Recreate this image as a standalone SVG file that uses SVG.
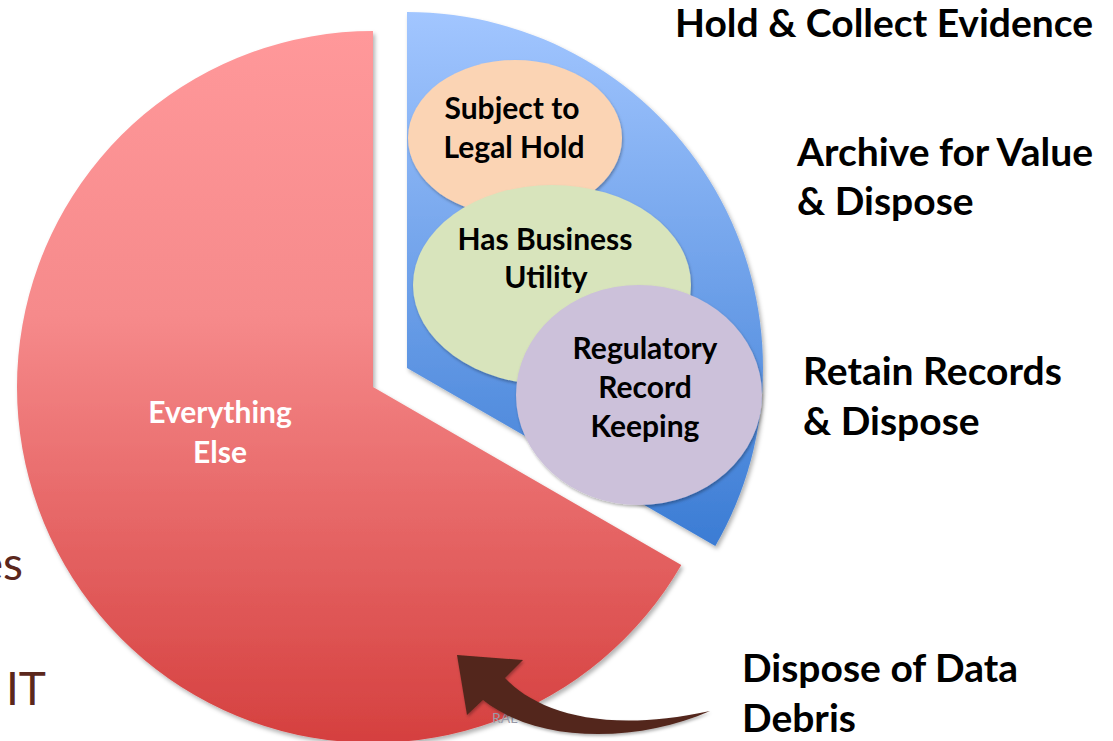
<svg xmlns="http://www.w3.org/2000/svg" width="1113" height="741" viewBox="0 0 1113 741">
  <defs>
    <linearGradient id="redGrad" gradientUnits="userSpaceOnUse" x1="0" y1="31" x2="0" y2="741">
      <stop offset="0" stop-color="#FF989A"/>
      <stop offset="0.4" stop-color="#F68A8B"/>
      <stop offset="1" stop-color="#D5403F"/>
    </linearGradient>
    <linearGradient id="blueGrad" gradientUnits="userSpaceOnUse" x1="0" y1="12" x2="0" y2="546">
      <stop offset="0" stop-color="#A2C6FF"/>
      <stop offset="1" stop-color="#3B7CD4"/>
    </linearGradient>
    <filter id="shadow" x="-10%" y="-10%" width="120%" height="120%">
      <feDropShadow dx="2" dy="3" stdDeviation="2" flood-color="#000" flood-opacity="0.3"/>
    </filter>
    <filter id="shadowSoft" x="-10%" y="-10%" width="120%" height="120%">
      <feDropShadow dx="1" dy="2" stdDeviation="1.5" flood-color="#000" flood-opacity="0.3"/>
    </filter>
    <style>
      .lbl { font-family: Lato, "Liberation Sans", sans-serif; font-weight: bold; fill: #000; }
      .big { font-size: 39px; }
      .inner { font-size: 30px; text-anchor: middle; }
      .white { fill: #fff; }
      .side { font-family: Lato, "Liberation Sans", sans-serif; font-size: 46px; fill: #5B271C; text-anchor: end; }
    </style>
  </defs>

  <rect width="1113" height="741" fill="#fff"/>

  <text class="side" x="23" y="580">es</text>
  <text class="side" x="46" y="705">IT</text>

  <g id="everything-else">
    <path d="M373,387 L373,31 A356,356 0 1,0 681.3,565 Z" fill="url(#redGrad)" filter="url(#shadow)"/>
    <text class="lbl inner white" x="220" y="423">Everything</text>
    <text class="lbl inner white" x="220" y="463">Else</text>
  </g>

  <g id="retained-slice">
    <path d="M407,368 L407,12 A356,356 0 0,1 715.3,546 Z" fill="url(#blueGrad)" filter="url(#shadow)"/>
  </g>

  <g id="legal-hold">
    <ellipse cx="515" cy="138" rx="107" ry="78" fill="#FBD4B4" filter="url(#shadowSoft)"/>
    <text class="lbl inner" x="512" y="119">Subject to</text>
    <text class="lbl inner" x="514" y="158">Legal Hold</text>
  </g>

  <g id="business-utility">
    <ellipse cx="552" cy="285" rx="139" ry="100" fill="#D8E4BC" filter="url(#shadowSoft)"/>
    <text class="lbl inner" x="545" y="250">Has Business</text>
    <text class="lbl inner" x="546" y="288">Utility</text>
  </g>

  <g id="regulatory">
    <ellipse cx="639" cy="395" rx="123" ry="110" fill="#CCC1DA" filter="url(#shadowSoft)"/>
    <text class="lbl inner" x="645" y="359">Regulatory</text>
    <text class="lbl inner" x="645" y="398">Record</text>
    <text class="lbl inner" x="645" y="437">Keeping</text>
  </g>

  <g id="labels">
    <text class="lbl big" x="675" y="37">Hold &amp; Collect Evidence</text>
    <text class="lbl big" x="797" y="166">Archive for Value</text>
    <text class="lbl big" x="797" y="215">&amp; Dispose</text>
    <text class="lbl big" x="803" y="385">Retain Records</text>
    <text class="lbl big" x="803" y="435">&amp; Dispose</text>
    <text class="lbl big" x="742" y="682">Dispose of Data</text>
    <text class="lbl big" x="742" y="732">Debris</text>
  </g>

  <text x="492" y="723" font-family="Lato, 'Liberation Sans', sans-serif" font-size="14" fill="#9A9AA8">RAL</text>

  <g id="connectors">
    <path d="M457,655 L523,660 L505,678 C535,710 600,735 710,711 C640,742 540,745 483,700 L467,715 Z" fill="#52261C" filter="url(#shadowSoft)"/>
  </g>
</svg>
